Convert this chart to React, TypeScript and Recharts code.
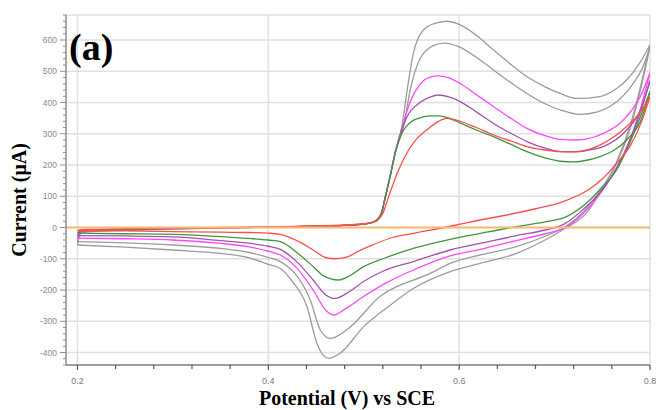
import React from 'react';
import { CartesianGrid, Line, LineChart, ReferenceLine, XAxis, YAxis } from 'recharts';

type Pair = [number, number];

// Potential (V vs SCE) tick marks and labelled ticks
const potentialTicks = [0.2, 0.24, 0.28, 0.32, 0.36, 0.4, 0.44, 0.48, 0.52, 0.56, 0.6, 0.64, 0.68, 0.72, 0.76, 0.8];
const potentialLabels = [0.2, 0.4, 0.6, 0.8];

// Current (µA) labelled ticks; minor ticks every 20 µA
const currentLabels = [-400, -300, -200, -100, 0, 100, 200, 300, 400, 500, 600];
const currentMin = -440;
const currentMax = 680;
const currentTicks: number[] = [];
for (let v = currentMin; v <= currentMax; v += 20) currentTicks.push(v);

// Each voltammogram: anodic (forward) and cathodic (reverse) sweeps, [E, I]
const grayOuterAnodic: Pair[] = [
  [0.2, -56], [0.204, -16], [0.25, -9], [0.3, -5], [0.35, -2], [0.4, 1], [0.45, 4], [0.48, 7], [0.5, 11],
  [0.51, 17], [0.515, 28], [0.519, 50], [0.5225, 96], [0.528, 168], [0.533, 240], [0.54, 323], [0.545, 429],
  [0.552, 557], [0.5626, 632], [0.5766, 655], [0.587, 660], [0.6, 650], [0.618, 615], [0.636, 568],
  [0.655, 520], [0.671, 483], [0.69, 450], [0.706, 429], [0.723, 413], [0.7476, 419], [0.765, 445],
  [0.7755, 472], [0.79, 530], [0.8, 585],
];
const grayOuterCathodic: Pair[] = [
  [0.2, -56], [0.25, -63], [0.3, -72], [0.35, -83], [0.38, -97], [0.4, -118], [0.4126, -131], [0.425, -172],
  [0.4405, -253], [0.451, -371], [0.4632, -419], [0.475, -403], [0.4998, -318], [0.525, -255], [0.552, -195],
  [0.5906, -141], [0.622, -115], [0.66, -83], [0.69, -40], [0.71, -5], [0.733, 45], [0.75, 125], [0.765, 210],
  [0.78, 335], [0.79, 450], [0.8, 585],
];

const grayInnerAnodic: Pair[] = [
  [0.2, -45], [0.204, -14], [0.25, -8], [0.3, -4], [0.35, -2], [0.4, 1], [0.45, 4], [0.48, 7], [0.5, 11],
  [0.51, 17], [0.515, 28], [0.519, 50], [0.5225, 96], [0.528, 168], [0.533, 240], [0.5417, 323], [0.5487, 440],
  [0.559, 540], [0.573, 582], [0.585, 590], [0.6, 578], [0.618, 545], [0.636, 504], [0.655, 462], [0.671, 429],
  [0.69, 396], [0.706, 376], [0.7267, 362], [0.745, 370], [0.758, 387], [0.7825, 461], [0.792, 510], [0.8, 578],
];
const grayInnerCathodic: Pair[] = [
  [0.2, -45], [0.25, -49], [0.3, -56], [0.35, -67], [0.38, -80], [0.4, -96], [0.4126, -109], [0.43, -155],
  [0.444, -232], [0.4545, -328], [0.465, -355], [0.482, -328], [0.517, -221], [0.5696, -147], [0.5906, -115],
  [0.622, -88], [0.66, -61], [0.69, -28], [0.71, 0], [0.73, 50], [0.75, 128], [0.765, 205], [0.78, 325],
  [0.79, 440], [0.8, 578],
];

const magentaAnodic: Pair[] = [
  [0.2, -34], [0.204, -12], [0.25, -7], [0.3, -4], [0.35, -1], [0.4, 1], [0.45, 4], [0.48, 7], [0.5, 11],
  [0.51, 17], [0.515, 28], [0.519, 50], [0.5225, 96], [0.528, 168], [0.533, 240], [0.54, 318], [0.549, 405],
  [0.559, 458], [0.5696, 481], [0.578, 485], [0.59, 478], [0.601, 461], [0.618, 425], [0.636, 387],
  [0.655, 348], [0.671, 317], [0.69, 294], [0.706, 282], [0.7233, 280], [0.74, 288], [0.751, 301],
  [0.7755, 355], [0.79, 420], [0.8, 495],
];
const magentaCathodic: Pair[] = [
  [0.2, -34], [0.25, -36], [0.3, -40], [0.35, -51], [0.38, -62], [0.4, -76], [0.4126, -88], [0.43, -130],
  [0.447, -200], [0.4615, -269], [0.4684, -280], [0.48, -262], [0.4998, -221], [0.525, -175], [0.552, -136],
  [0.5906, -91], [0.622, -70], [0.66, -42], [0.69, -20], [0.71, -2], [0.73, 45], [0.75, 118], [0.765, 190],
  [0.78, 290], [0.79, 380], [0.8, 495],
];

const purpleAnodic: Pair[] = [
  [0.2, -26], [0.204, -11], [0.25, -7], [0.3, -3], [0.35, -1], [0.4, 1], [0.45, 4], [0.48, 7], [0.5, 11],
  [0.51, 17], [0.515, 28], [0.519, 50], [0.5225, 96], [0.528, 168], [0.533, 240], [0.539, 305], [0.545, 352],
  [0.559, 400], [0.57, 418], [0.578, 424], [0.59, 417], [0.601, 403], [0.618, 370], [0.636, 333], [0.655, 300],
  [0.671, 275], [0.69, 254], [0.706, 243], [0.722, 242], [0.74, 250], [0.751, 259], [0.7755, 312], [0.79, 375],
  [0.8, 470],
];
const purpleCathodic: Pair[] = [
  [0.2, -26], [0.25, -27], [0.3, -30], [0.35, -42], [0.38, -50], [0.4, -60], [0.4126, -70], [0.43, -110],
  [0.447, -168], [0.46, -215], [0.47, -227], [0.485, -205], [0.4998, -173], [0.52, -140], [0.552, -109],
  [0.5906, -72], [0.622, -51], [0.66, -26], [0.69, -8], [0.71, 11], [0.73, 58], [0.75, 120], [0.765, 190],
  [0.78, 285], [0.79, 370], [0.8, 470],
];

const greenAnodic: Pair[] = [
  [0.2, -18], [0.204, -10], [0.25, -6], [0.3, -3], [0.35, -1], [0.4, 1], [0.45, 4], [0.48, 7], [0.5, 11],
  [0.51, 17], [0.515, 28], [0.519, 50], [0.5225, 96], [0.528, 168], [0.533, 238], [0.539, 295], [0.549, 337],
  [0.559, 351], [0.57, 357], [0.578, 357], [0.587, 352], [0.601, 335], [0.618, 312], [0.636, 291], [0.655, 265],
  [0.671, 243], [0.69, 223], [0.706, 212], [0.72, 210], [0.735, 216], [0.7476, 227], [0.7755, 280], [0.79, 340],
  [0.8, 435],
];
const greenCathodic: Pair[] = [
  [0.2, -18], [0.25, -20], [0.3, -22], [0.35, -29], [0.38, -35], [0.4, -40], [0.4126, -45], [0.43, -80],
  [0.447, -125], [0.458, -155], [0.4736, -168], [0.485, -155], [0.4998, -125], [0.52, -100], [0.552, -67],
  [0.5906, -38], [0.622, -19], [0.66, 3], [0.69, 18], [0.7126, 35], [0.737, 88], [0.75, 130], [0.765, 184],
  [0.7755, 248], [0.79, 355], [0.8, 435],
];

const redAnodic: Pair[] = [
  [0.2, -10], [0.204, -7], [0.25, -4], [0.3, -2], [0.35, 0], [0.4, 2], [0.45, 5], [0.48, 8], [0.5, 12],
  [0.51, 17], [0.515, 24], [0.52, 45], [0.526, 98], [0.5365, 184], [0.547, 248], [0.556, 285], [0.566, 312],
  [0.578, 339], [0.587, 349], [0.601, 340], [0.618, 320], [0.636, 296], [0.655, 276], [0.671, 259], [0.69, 248],
  [0.706, 243], [0.723, 243], [0.74, 254], [0.751, 269], [0.7755, 323], [0.79, 370], [0.8, 418],
];
const redCathodic: Pair[] = [
  [0.2, -10], [0.25, -11], [0.3, -13], [0.35, -15], [0.38, -16], [0.4, -18], [0.4126, -22], [0.435, -50],
  [0.447, -72], [0.46, -96], [0.47, -100], [0.482, -95], [0.495, -75], [0.51, -55], [0.53, -32], [0.552, -19],
  [0.5976, 8], [0.622, 24], [0.65, 40], [0.68, 60], [0.709, 83], [0.735, 120], [0.75, 155], [0.765, 205],
  [0.78, 265], [0.79, 330], [0.8, 418],
];

const toPoints = (pairs: Pair[]) => pairs.map(([potential, current]) => ({ potential, current }));

const sweeps = [
  { key: 'grayOuter', color: '#9c9c9c', anodic: grayOuterAnodic, cathodic: grayOuterCathodic },
  { key: 'grayInner', color: '#9c9c9c', anodic: grayInnerAnodic, cathodic: grayInnerCathodic },
  { key: 'magenta', color: '#ff45ff', anodic: magentaAnodic, cathodic: magentaCathodic },
  { key: 'purple', color: '#a055a8', anodic: purpleAnodic, cathodic: purpleCathodic },
  { key: 'green', color: '#3f963f', anodic: greenAnodic, cathodic: greenCathodic },
  { key: 'red', color: '#ff4d4d', anodic: redAnodic, cathodic: redCathodic },
];

const serif = '"Liberation Serif", "Times New Roman", serif';
const sans = '"Liberation Sans", Arial, sans-serif';
const axisGray = '#8e8e8e';

const CurrentTick = ({ x, y, payload }: any) => {
  const major = currentLabels.includes(payload.value);
  return (
    <g>
      <line x1={x - (major ? 6 : 3)} x2={x} y1={y} y2={y} stroke={axisGray} strokeWidth={1} />
      {major && (
        <text x={x - 9} y={y} dy={3} textAnchor="end" fontSize={8.5} fill="#8a8a8a" fontFamily={sans}>
          {payload.value}
        </text>
      )}
    </g>
  );
};

const PotentialTick = ({ x, y, payload }: any) => {
  const major = potentialLabels.some((v) => Math.abs(v - payload.value) < 1e-6);
  return (
    <g>
      <line x1={x} x2={x} y1={y} y2={y + (major ? 5 : 4)} stroke="#555" strokeWidth={1.2} />
      {major && (
        <text x={x} y={y + 19} textAnchor="middle" fontSize={9} fill="#7a7a7a" fontFamily={sans}>
          {payload.value.toFixed(1)}
        </text>
      )}
    </g>
  );
};

export default function App() {
  return (
    <div style={{ position: 'relative', width: 656, height: 410, background: '#fff' }}>
      <style>{'body { margin: 0; }'}</style>
      <LineChart width={656} height={410} margin={{ top: 15, right: 6, bottom: 0, left: 0 }}>
        <CartesianGrid
          stroke="#e0e0e0"
          strokeWidth={1.5}
          horizontalValues={[...currentLabels, currentMax]}
          verticalValues={potentialLabels}
        />
        <XAxis
          type="number"
          dataKey="potential"
          domain={[0.188, 0.8]}
          allowDataOverflow
          ticks={potentialTicks}
          interval={0}
          tickSize={0}
          tickMargin={0}
          tickLine={false}
          height={45}
          axisLine={{ stroke: '#7a7a7a', strokeWidth: 1.5 }}
          tick={<PotentialTick />}
        />
        <YAxis
          type="number"
          domain={[currentMin, currentMax]}
          allowDataOverflow
          ticks={currentTicks}
          interval={0}
          tickSize={0}
          tickMargin={0}
          tickLine={false}
          width={66}
          axisLine={{ stroke: axisGray, strokeWidth: 1.5 }}
          tick={<CurrentTick />}
        />
        {sweeps.map((s) => [
          <Line
            key={`${s.key}-a`}
            data={toPoints(s.anodic)}
            dataKey="current"
            type="monotone"
            stroke={s.color}
            strokeWidth={1.3}
            dot={false}
            isAnimationActive={false}
          />,
          <Line
            key={`${s.key}-c`}
            data={toPoints(s.cathodic)}
            dataKey="current"
            type="monotone"
            stroke={s.color}
            strokeWidth={1.3}
            dot={false}
            isAnimationActive={false}
          />,
        ])}
        <ReferenceLine y={0} stroke="#ffb870" strokeWidth={2} />
      </LineChart>

      <div
        style={{
          position: 'absolute', left: 69, top: 24, fontFamily: serif, fontWeight: 'bold',
          fontSize: 38, lineHeight: '46px', color: '#000',
        }}
      >
        (a)
      </div>
      <div
        style={{
          position: 'absolute', left: 19, top: 200, transform: 'translate(-50%, -50%) rotate(-90deg)',
          whiteSpace: 'nowrap', fontFamily: serif, fontWeight: 'bold', fontSize: 20, color: '#000',
        }}
      >
        Current (μA)
      </div>
      <div
        style={{
          position: 'absolute', left: 347, top: 398, transform: 'translate(-50%, -50%)',
          whiteSpace: 'nowrap', fontFamily: serif, fontWeight: 'bold', fontSize: 20, color: '#000',
        }}
      >
        Potential (V) vs SCE
      </div>
    </div>
  );
}
